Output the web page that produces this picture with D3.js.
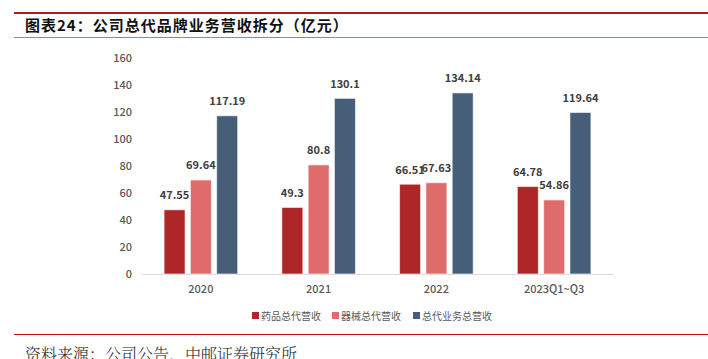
<!DOCTYPE html>
<html><head><meta charset="utf-8">
<script src="https://cdn.jsdelivr.net/npm/d3@7"></script>
<style>body{margin:0;background:#fff}svg{display:block}</style>
</head><body>
<script>
const categories = ["2020", "2021", "2022", "2023Q1~Q3"];
const seriesNames = ["药品总代营收", "器械总代营收", "总代业务总营收"];
const pharma = [47.55, 49.3, 66.51, 64.78];
const device = [69.64, 80.8, 67.63, 54.86];
const total = [117.19, 130.1, 134.14, 119.64];
const yTicks = [0, 20, 40, 60, 80, 100, 120, 140, 160];
const colors = ["#AF2629", "#E06B6B", "#465E78"];
const series = [pharma, device, total];

const W = 708, H = 359;
const svg = d3.select("body").append("svg").attr("width", W).attr("height", H);
const font = "'Noto Sans CJK SC','Noto Sans',sans-serif";

// header lines
svg.append("rect").attr("x", 14).attr("y", 12).attr("width", W - 14).attr("height", 2).attr("fill", "#C0161C");
svg.append("rect").attr("x", 14).attr("y", 37).attr("width", W - 14).attr("height", 1).attr("fill", "#E06A6A");
svg.append("text").attr("x", 25).attr("y", 31).attr("font-family", font).attr("font-size", 15)
  .attr("letter-spacing", 1)
  .attr("font-weight", "bold").attr("fill", "#111").text("图表24：公司总代品牌业务营收拆分（亿元）");

const x = d3.scaleBand().domain(categories).range([142, 613]);
const y = d3.scaleLinear().domain([0, 160]).range([274, 58]);
const barW = 21, step = 26.3;

// y axis labels
svg.append("g").selectAll("text").data(yTicks).join("text")
  .attr("x", 132).attr("y", d => y(d)).attr("dy", "0.35em").attr("text-anchor", "end")
  .attr("font-family", font).attr("font-size", 11).attr("font-weight", 500).attr("fill", "#595959").text(d => d);

// baseline
svg.append("line").attr("x1", 142).attr("x2", 613).attr("y1", y(0) + 0.5).attr("y2", y(0) + 0.5)
  .attr("stroke", "#D9D9D9").attr("stroke-width", 1);

series.forEach((vals, si) => {
  const g = svg.append("g");
  const cx = c => x(c) + x.bandwidth() / 2 + (si - 1) * step;
  g.selectAll("rect").data(categories).join("rect")
    .attr("x", c => cx(c) - barW / 2).attr("width", barW)
    .attr("y", (c, i) => y(vals[i])).attr("height", (c, i) => y(0) - y(vals[i]))
    .attr("fill", colors[si]).attr("stroke", "#fff").attr("stroke-opacity", 0.6).attr("stroke-width", 1);
  g.selectAll("text").data(categories).join("text")
    .attr("x", c => cx(c)).attr("y", (c, i) => y(vals[i]) - 10.5)
    .attr("text-anchor", "middle").attr("font-family", font).attr("font-size", 11)
    .attr("font-weight", "bold").attr("fill", "#404040").text((c, i) => vals[i]);
});

// category labels
svg.append("g").selectAll("text").data(categories).join("text")
  .attr("x", c => x(c) + x.bandwidth() / 2).attr("y", 293).attr("text-anchor", "middle")
  .attr("font-family", font).attr("font-size", 11).attr("font-weight", 500).attr("fill", "#595959").text(c => c);

// legend
const legX = [252, 332, 413];
const lg = svg.append("g");
seriesNames.forEach((n, i) => {
  lg.append("rect").attr("x", legX[i]).attr("y", 312).attr("width", 7).attr("height", 7).attr("fill", colors[i]);
  lg.append("text").attr("x", legX[i] + 9).attr("y", 316).attr("dy", "0.35em")
    .attr("font-family", font).attr("font-size", 10).attr("fill", "#595959").text(n);
});

// footer
svg.append("rect").attr("x", 14).attr("y", 334).attr("width", W - 14).attr("height", 1).attr("fill", "#C0161C");
svg.append("text").attr("x", 25).attr("y", 360).attr("font-family", "'Noto Serif CJK SC','Noto Sans CJK SC',serif")
  .attr("font-size", 16).attr("font-weight", 300).attr("fill", "#222").text("资料来源：公司公告，中邮证券研究所");
</script>
</body></html>
